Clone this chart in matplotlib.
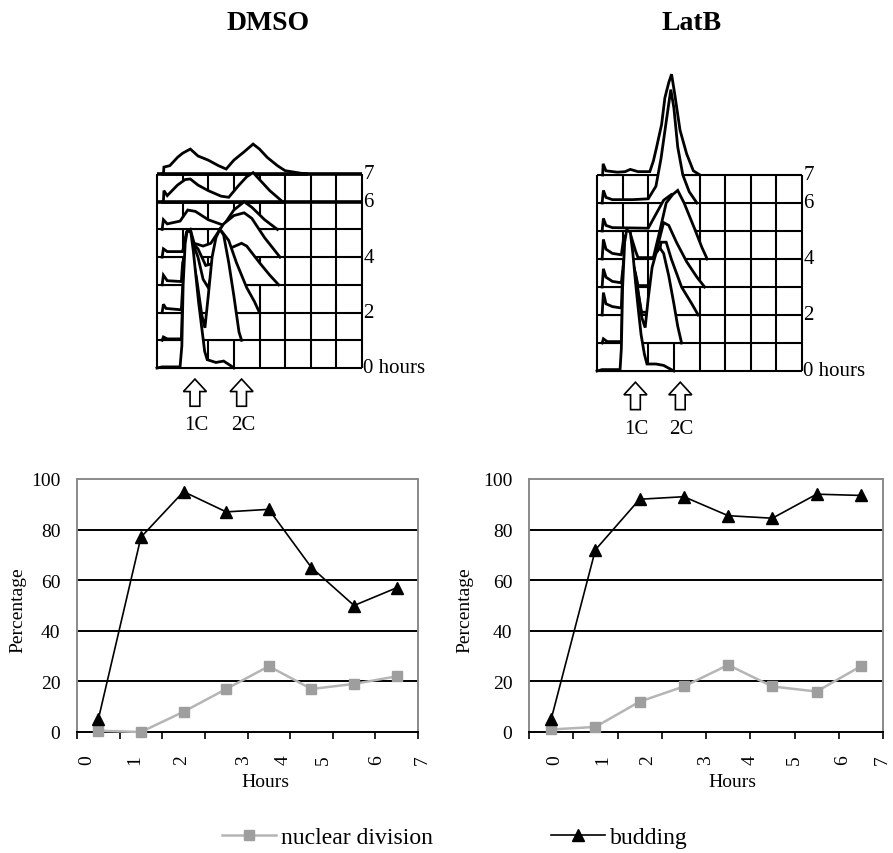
import numpy as np
import matplotlib
matplotlib.use('Agg')
import matplotlib.pyplot as plt
import matplotlib.transforms as mtransforms
from matplotlib.patches import FancyArrow

plt.rcParams['font.family'] = ['Liberation Serif', 'DejaVu Serif']

# Datos de las gráficas de porcentaje (una muestra por hora)
hour_labels = ['0', '1', '2', '3', '4', '5', '6', '7']
budding_dmso = [5, 77, 95, 87, 88, 65, 50, 57]
nuclear_dmso = [0.5, 0, 8, 17, 26, 17, 19, 22]
budding_latb = [5, 72, 92, 93, 85.5, 84.5, 94, 93.5]
nuclear_latb = [1, 2, 12, 18, 26.5, 18, 16, 26]

# Histogramas de citometría: (canal en columnas de la rejilla, altura en filas)
dmso_hist = [
    [(0, 0), (0.2, 0.04), (0.9, 0.04), (0.97, 0.8), (1.02, 3.0), (1.1, 4.5), (1.18, 4.95), (1.32, 4.9),
     (1.42, 4.2), (1.52, 3.3), (1.62, 2.4), (1.74, 1.5), (1.86, 0.6), (1.96, 0.3), (2.3, 0.2), (2.6, 0.25),
     (2.85, 0.1), (3.0, 0)],
    [(0.2, 0), (0.25, 0.12), (0.4, 0.05), (0.95, 0.05), (1.0, 1.5), (1.15, 3.0), (1.35, 3.2), (1.55, 2.2),
     (1.75, 0.9), (1.87, 0.45), (2.0, 1.6), (2.15, 3.0), (2.3, 3.7), (2.45, 4.0), (2.6, 3.8), (2.8, 2.8),
     (3.0, 1.6), (3.2, 0.3), (3.3, 0)],
    [(0.2, 0), (0.25, 0.3), (0.35, 0.15), (0.95, 0.1), (1.0, 0.9), (1.2, 2.2), (1.4, 2.5), (1.6, 2.0),
     (1.8, 1.2), (2.0, 0.9), (2.3, 2.0), (2.55, 2.9), (2.8, 2.6), (3.1, 1.8), (3.5, 0.9), (3.8, 0.4), (4.0, 0)],
    [(0.2, 0), (0.25, 0.35), (0.4, 0.15), (0.95, 0.12), (1.0, 0.8), (1.3, 1.6), (1.6, 1.3), (1.9, 0.7),
     (2.3, 0.8), (2.8, 1.3), (3.3, 1.5), (3.5, 1.4), (4.0, 0.8), (4.4, 0.35), (4.75, 0)],
    [(0.2, 0), (0.25, 0.3), (0.4, 0.2), (1.0, 0.2), (1.15, 0.9), (1.3, 1.0), (1.45, 0.5), (1.8, 0.4),
     (2.1, 0.5), (2.6, 1.2), (3.0, 1.5), (3.4, 1.6), (3.7, 1.4), (4.2, 0.7), (4.8, 0)],
    [(0.2, 0), (0.25, 0.35), (0.4, 0.2), (0.9, 0.3), (1.2, 0.7), (1.5, 0.65), (2.0, 0.35), (2.6, 0.15),
     (3.0, 0.7), (3.4, 1.0), (3.7, 0.8), (4.2, 0.35), (4.7, 0)],
    [(0.25, 0), (0.27, 0.4), (0.4, 0.22), (0.8, 0.6), (1.1, 0.8), (1.3, 0.82), (1.6, 0.6), (2.0, 0.4),
     (2.5, 0.2), (2.8, 0.16), (3.2, 0.6), (3.5, 0.9), (3.75, 1.05), (4.0, 0.8), (4.4, 0.4), (4.9, 0)],
    [(0.25, 0), (0.27, 0.25), (0.5, 0.3), (0.8, 0.6), (1.0, 0.75), (1.3, 0.9), (1.6, 0.65), (2.0, 0.5),
     (2.4, 0.3), (2.7, 0.18), (3.0, 0.5), (3.4, 0.8), (3.75, 1.08), (4.0, 0.9), (4.3, 0.6), (4.7, 0.3),
     (5.0, 0.12), (5.8, 0)],
]
latb_hist = [
    [(0, 0), (0.2, 0.05), (0.9, 0.05), (0.95, 0.8), (1.0, 3.0), (1.08, 4.6), (1.16, 5.05), (1.3, 4.95),
     (1.4, 4.2), (1.5, 3.2), (1.6, 2.3), (1.72, 1.3), (1.85, 0.6), (1.95, 0.25), (2.3, 0.25), (2.6, 0.2),
     (2.9, 0.05), (3.0, 0)],
    [(0.2, 0), (0.25, 0.15), (0.4, 0.05), (0.95, 0.05), (1.0, 1.6), (1.15, 3.0), (1.35, 3.1), (1.55, 2.2),
     (1.75, 0.9), (1.88, 0.55), (2.0, 1.6), (2.15, 2.7), (2.3, 3.2), (2.45, 3.4), (2.6, 3.2), (2.8, 2.4),
     (3.0, 1.4), (3.15, 0.6), (3.3, 0)],
    [(0.2, 0), (0.25, 0.8), (0.35, 0.4), (0.6, 0.3), (0.95, 0.25), (1.0, 1.5), (1.2, 2.2), (1.45, 1.6),
     (1.74, 0.1), (2.1, 0.1), (2.3, 1.5), (2.5, 2.6), (2.7, 2.6), (2.9, 2.0), (3.3, 1.0), (3.7, 0.4), (3.95, 0)],
    [(0.2, 0), (0.25, 0.65), (0.35, 0.35), (0.6, 0.2), (0.95, 0.15), (1.05, 1.0), (1.3, 1.2), (1.5, 0.5),
     (1.6, 0.05), (2.1, 0.05), (2.35, 1.4), (2.6, 2.3), (2.8, 2.2), (3.1, 1.6), (3.5, 0.9), (3.9, 0.35), (4.2, 0)],
    [(0.2, 0), (0.25, 0.7), (0.35, 0.35), (0.6, 0.2), (0.95, 0.15), (1.05, 0.8), (1.3, 0.9), (1.5, 0.3),
     (1.6, 0.05), (2.2, 0.05), (2.45, 1.0), (2.7, 2.0), (2.95, 2.3), (3.15, 2.45), (3.4, 2.0), (3.8, 1.1),
     (4.1, 0.4), (4.3, 0)],
    [(0.2, 0), (0.25, 0.45), (0.35, 0.2), (0.6, 0.12), (2.0, 0.1), (2.3, 0.6), (2.6, 1.1), (2.9, 1.3),
     (3.2, 1.0), (3.5, 0.5), (3.85, 0)],
    [(0.2, 0), (0.25, 0.45), (0.35, 0.2), (0.6, 0.12), (1.4, 0.12), (2.0, 0.15), (2.3, 0.6), (2.5, 1.6),
     (2.7, 2.9), (2.88, 4.05), (3.0, 3.4), (3.15, 2.0), (3.35, 1.0), (3.6, 0.4), (3.9, 0)],
    [(0.22, 0), (0.24, 0.4), (0.35, 0.15), (0.8, 0.1), (1.1, 0.12), (1.3, 0.2), (1.6, 0.12), (2.06, 0.12),
     (2.2, 0.5), (2.32, 0.97), (2.52, 1.8), (2.65, 2.76), (2.8, 3.3), (2.91, 3.6), (3.04, 2.85), (3.24, 1.6),
     (3.5, 0.75), (3.76, 0.15), (4.02, 0)],
]
row_labels = ['0 hours', '2', '4', '6', '7']
row_label_rows = [0, 2, 4, 6, 7]

W, H = 893, 854
fig = plt.figure(figsize=(W / 100, H / 100), dpi=100)


def px_axes(l, t, r, b):
    return fig.add_axes([l / W, 1 - b / H, (r - l) / W, (b - t) / H])


def draw_flow(ax, traces, arrow_cols, thick_rows=()):
    ax.set_xlim(0, 8)
    ax.set_ylim(0, 7)
    ax.axis('off')
    ax.hlines(range(8), 0, 8, color='black', lw=1.5, zorder=0, clip_on=False)
    ax.vlines(range(9), 0, 7, color='black', lw=1.5, zorder=0, clip_on=False)
    for row in thick_rows:
        ax.hlines(row, 0, 8, color='black', lw=2.6, zorder=0, clip_on=False)
    # de atrás (última hora) hacia delante (hora 0)
    for hour in reversed(range(len(traces))):
        xs = [p[0] for p in traces[hour]]
        ys = [hour + p[1] for p in traces[hour]]
        z = 20 - 2 * hour
        base_lw = 2.6 if hour in thick_rows else 1.5
        ax.fill_between(xs, hour, ys, color='white', lw=0, zorder=z, clip_on=False)
        ax.plot([xs[0], xs[-1]], [hour, hour], color='black', lw=base_lw, zorder=z, clip_on=False)
        ax.plot(xs, ys, color='black', lw=2.0, zorder=z + 0.5, clip_on=False, solid_joinstyle='miter')
    for lab, row in zip(row_labels, row_label_rows):
        ax.text(8.05, row, lab, ha='left', va='center', fontsize=15, clip_on=False)
    for col, lab in zip(arrow_cols, ['1C', '2C']):
        ax.add_patch(FancyArrow(col, -1.38, 0, 0.98, width=0.38, head_width=0.9, head_length=0.45,
                                length_includes_head=True, fc='white', ec='black', lw=1.2, clip_on=False))
        ax.text(col + 0.05, -2.05, lab, ha='center', va='center', fontsize=15, clip_on=False)


def draw_pct(ax, budding, nuclear, label_pos):
    x = np.arange(len(budding)) + 0.5
    ax.set_xlim(0, 8)
    ax.set_ylim(0, 100)
    ax.hlines([20, 40, 60, 80], 0, 8, color='black', lw=1.4, zorder=1)
    nuc, = ax.plot(x, nuclear, color='#b5b5b5', lw=1.8, marker='s', ms=7, mfc='#9e9e9e', mec='#9e9e9e',
                   clip_on=False, zorder=3, label='nuclear division')
    bud, = ax.plot(x, budding, color='black', lw=1.2, marker='^', ms=8, clip_on=False, zorder=4,
                   label='budding')
    for side in ['top', 'right', 'left']:
        ax.spines[side].set_color('#8a8a8a')
        ax.spines[side].set_linewidth(1.4)
    ax.spines['bottom'].set_color('black')
    ax.spines['bottom'].set_linewidth(1.4)
    ax.set_yticks(range(0, 101, 20))
    ax.tick_params(axis='y', length=0, pad=12, labelsize=14)
    ax.set_xticks(range(9))
    ax.set_xticklabels([])
    ax.tick_params(axis='x', direction='out', length=5, width=1.2)
    trans = mtransforms.blended_transform_factory(ax.transData, ax.transAxes)
    for lab, pos in zip(hour_labels, label_pos):
        ax.text(pos, -0.107, lab, transform=trans, rotation=90, ha='center', va='center',
                fontsize=14, clip_on=False)
    return nuc, bud


# Títulos
fig.text(268 / W, 1 - 23 / H, 'DMSO', ha='center', va='center', fontsize=20, fontweight='bold')
fig.text(692 / W, 1 - 23 / H, 'LatB', ha='center', va='center', fontsize=20, fontweight='bold')

# Histogramas de contenido de ADN
ax_fd = px_axes(157, 175, 362, 369)
draw_flow(ax_fd, dmso_hist, [1.48, 3.3], thick_rows=(6, 7))
ax_fl = px_axes(597, 176, 802, 372)
draw_flow(ax_fl, latb_hist, [1.5, 3.25])

# Gráficas de porcentaje
ax_pd = px_axes(77, 480, 418, 733)
nuc_line, bud_line = draw_pct(ax_pd, budding_dmso, nuclear_dmso,
                              [0.24, 1.36, 2.46, 3.90, 4.83, 5.77, 7.04, 8.09])
ax_pl = px_axes(529, 480, 883, 733)
draw_pct(ax_pl, budding_latb, nuclear_latb, [0.59, 1.67, 2.67, 3.98, 5.0, 6.0, 7.09, 7.98])

for xc in [18, 465]:
    fig.text(xc / W, 1 - 610 / H, 'Percentage', rotation=90, ha='center', va='center', fontsize=14)
for xc in [265, 732]:
    fig.text(xc / W, 1 - 783 / H, 'Hours', ha='center', va='center', fontsize=14)

# Leyenda común
fig.legend([nuc_line, bud_line], ['nuclear division', 'budding'], loc='center left',
           bbox_to_anchor=(222 / W, 1 - 838 / H), ncol=2, frameon=False, fontsize=17,
           handlelength=2.3, handletextpad=0.2, columnspacing=5.0, borderpad=0, borderaxespad=0)

fig.savefig('out.png', dpi=100)
